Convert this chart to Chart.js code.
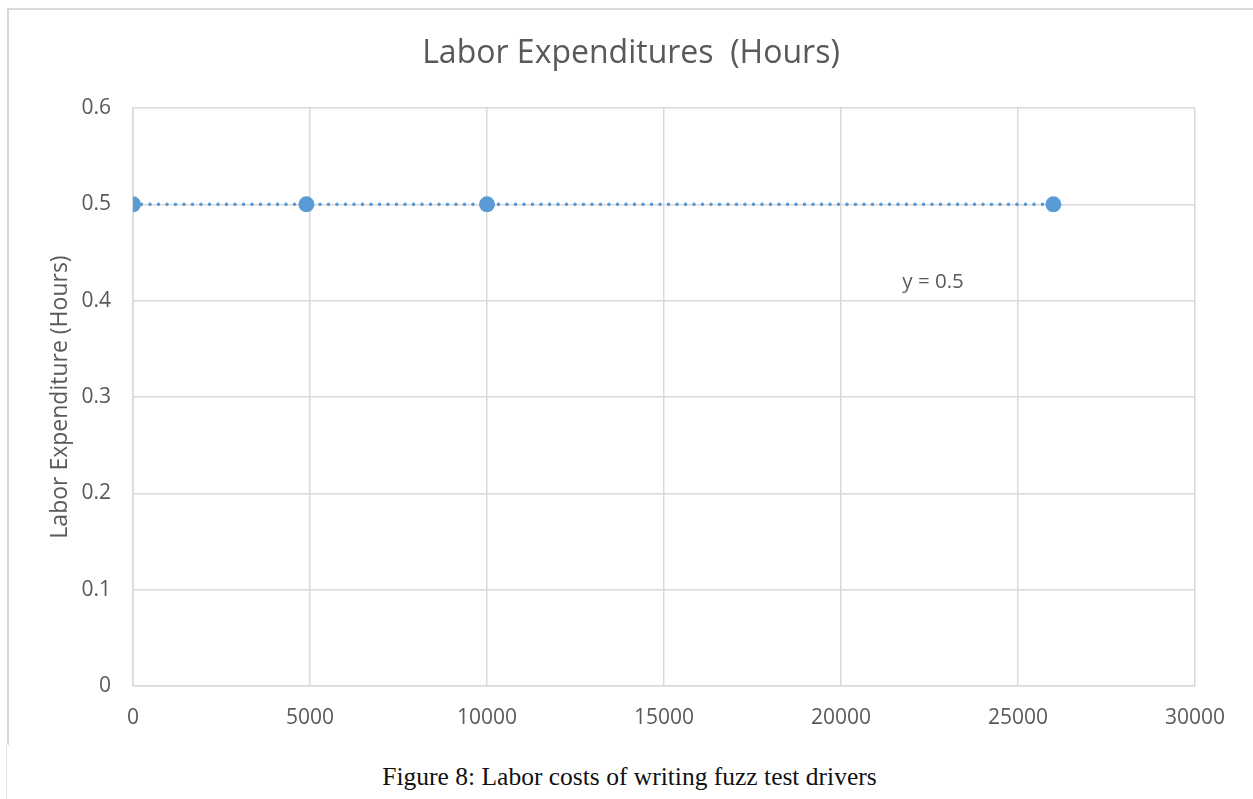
<!DOCTYPE html>
<html>
<head>
<meta charset="utf-8">
<script src="https://cdn.jsdelivr.net/npm/chart.js@4.4.1/dist/chart.umd.min.js"></script>
<style>
  html, body { margin: 0; padding: 0; background: #fff; }
  body { width: 1253px; height: 799px; position: relative; overflow: hidden; }
  #frame {
    position: absolute; left: 7px; top: 8px; width: 1246px; height: 737px;
    border-left: 2px solid #d9d9d9; border-top: 2px solid #d9d9d9;
    box-sizing: border-box; pointer-events: none;
  }
  #frameTail {
    position: absolute; left: 6px; top: 745px; height: 54px;
    border-left: 1px solid #e3e3e3;
  }
  #wrap { position: absolute; left: 0; top: 0; width: 1253px; height: 745px; }
  #caption {
    position: absolute; left: 3px; top: 762px; width: 1253px; text-align: center;
    font-family: "Liberation Serif", "DejaVu Serif", serif; font-size: 25.5px;
    line-height: 30px; color: #111;
  }
</style>
</head>
<body>
<div id="wrap"><canvas id="chart" width="1253" height="745"></canvas></div>
<div id="frame"></div>
<div id="frameTail"></div>
<div id="caption">Figure 8: Labor costs of writing fuzz test drivers</div>
<script>
// Driver count vs. hours spent writing each fuzz test driver
const drivers = [0, 4900, 10000, 26000];
const hours = [0.5, 0.5, 0.5, 0.5];

// Axis ranges: [min, max, step]
const xRange = [0, 30000, 5000];
const yRange = [0, 0.6, 0.1];

const chartTitle = 'Labor Expenditures  (Hours)';
const yTitle = 'Labor Expenditure (Hours)';

const BLUE = '#5B9BD5';
const GRID = '#d9d9d9';
const TEXT = '#595959';
const FONT = "'Open Sans', 'Noto Sans', sans-serif";

// Least-squares linear fit for the trendline
function linearFit(xs, ys) {
  const n = xs.length;
  const mx = xs.reduce((a, b) => a + b, 0) / n;
  const my = ys.reduce((a, b) => a + b, 0) / n;
  let sxy = 0, sxx = 0;
  for (let i = 0; i < n; i++) {
    sxy += (xs[i] - mx) * (ys[i] - my);
    sxx += (xs[i] - mx) * (xs[i] - mx);
  }
  const slope = sxx === 0 ? 0 : sxy / sxx;
  return { slope, intercept: my - slope * mx };
}
const fit = linearFit(drivers, hours);
const xMin = Math.min(...drivers), xMax = Math.max(...drivers);
const trend = [
  { x: xMin, y: fit.intercept + fit.slope * xMin },
  { x: xMax, y: fit.intercept + fit.slope * xMax }
];
function equationText(f) {
  const r = v => +v.toPrecision(4);
  if (Math.abs(f.slope) < 1e-12) return 'y = ' + r(f.intercept);
  const sign = f.intercept < 0 ? ' - ' : ' + ';
  return 'y = ' + r(f.slope) + 'x' + sign + r(Math.abs(f.intercept));
}

// Chart title, centred over the whole framed chart rather than the plot
const frameTitle = {
  id: 'frameTitle',
  afterDraw(chart) {
    const { ctx } = chart;
    ctx.save();
    ctx.font = "32px " + FONT;
    ctx.fillStyle = TEXT;
    ctx.textAlign = 'center';
    ctx.textBaseline = 'middle';
    ctx.fillText(chartTitle, 631, 53.5);
    ctx.restore();
  }
};

// Trendline equation, placed in data space below the line
const equationLabel = {
  id: 'equationLabel',
  afterDatasetsDraw(chart) {
    const { ctx, scales } = chart;
    const px = scales.x.getPixelForValue(22600);
    const py = scales.y.getPixelForValue(0.419);
    ctx.save();
    ctx.font = "20.5px " + FONT;
    ctx.fillStyle = TEXT;
    ctx.textAlign = 'center';
    ctx.textBaseline = 'middle';
    ctx.fillText(equationText(fit), px, py);
    ctx.restore();
  }
};

const points = drivers.map((x, i) => ({ x, y: hours[i] }));

new Chart(document.getElementById('chart'), {
  type: 'scatter',
  data: {
    datasets: [
      {
        label: 'Labor',
        data: points,
        backgroundColor: BLUE,
        borderColor: BLUE,
        pointRadius: 8,
        pointBorderWidth: 0,
        order: 0
      },
      {
        label: 'Linear (Labor)',
        data: trend,
        showLine: true,
        borderColor: BLUE,
        borderWidth: 3.6,
        borderDash: [0, 8.5],
        borderCapStyle: 'round',
        pointRadius: 0,
        order: 1
      }
    ]
  },
  options: {
    responsive: false,
    animation: false,
    devicePixelRatio: 1,
    layout: { padding: { top: 108, right: 58, bottom: 0, left: 0 } },
    plugins: {
      legend: { display: false },
      tooltip: { enabled: false },
      title: { display: false }
    },
    scales: {
      x: {
        type: 'linear',
        min: xRange[0], max: xRange[1],
        ticks: { stepSize: xRange[2], color: TEXT, padding: 19.4,
                 font: { family: FONT, size: 21 }, maxRotation: 0,
                 callback: v => String(v) },
        grid: { color: GRID, lineWidth: 1.5, drawTicks: false },
        border: { color: GRID, width: 1.5 },
        afterFit(s) { s.height = 59; }
      },
      y: {
        type: 'linear',
        min: yRange[0], max: yRange[1],
        ticks: { stepSize: yRange[2], color: TEXT, padding: 22,
                 font: { family: FONT, size: 21 },
                 callback: v => String(+v.toFixed(1)) },
        grid: { color: GRID, lineWidth: 1.5, drawTicks: false },
        border: { color: GRID, width: 1.5 },
        title: {
          display: true, text: yTitle, color: TEXT,
          font: { family: FONT, size: 23, lineHeight: 1.2 },
          padding: { top: 46.2, bottom: 0 }
        },
        afterFit(s) { s.width = 133; }
      }
    }
  },
  plugins: [equationLabel, frameTitle]
});
</script>
</body>
</html>
